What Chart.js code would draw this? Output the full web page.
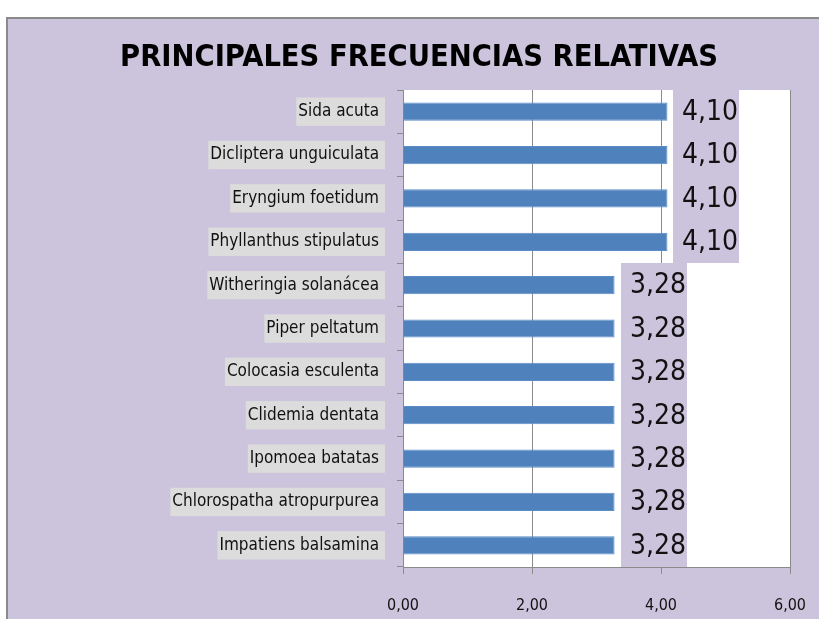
<!DOCTYPE html>
<html>
<head>
<meta charset="utf-8">
<script src="https://cdn.jsdelivr.net/npm/chart.js@4.4.1/dist/chart.umd.min.js"></script>
<style>
  html, body { margin: 0; padding: 0; background: #fff; }
  #wrap {
    position: absolute; left: 6px; top: 17px;
    width: 811px; height: 600px;
    border-top: 2px solid #8a8a8a; border-left: 2px solid #8a8a8a;
    background: #ccc3dc;
  }
  canvas { display: block; }
</style>
</head>
<body>
<div id="wrap"><canvas id="chart" width="811" height="600"></canvas></div>
<script>
// Datos del gráfico
const especies = [
  'Sida acuta', 'Dicliptera unguiculata', 'Eryngium foetidum', 'Phyllanthus stipulatus',
  'Witheringia solanácea', 'Piper peltatum', 'Colocasia esculenta', 'Clidemia dentata',
  'Ipomoea batatas', 'Chlorospatha atropurpurea', 'Impatiens balsamina'
];
const frecuencias = [4.10, 4.10, 4.10, 4.10, 3.28, 3.28, 3.28, 3.28, 3.28, 3.28, 3.28];
const ejeX = [0, 2, 4, 6];

const FONT = '"DejaVu Sans Condensed", sans-serif';
const fmt = v => v.toFixed(2).replace('.', ',');

// fondo blanco del área de trazado
const fondoArea = {
  id: 'fondoArea',
  beforeDraw(chart) {
    const a = chart.chartArea, ctx = chart.ctx;
    ctx.save();
    ctx.fillStyle = '#ffffff';
    ctx.fillRect(a.left, a.top, a.right - a.left, a.bottom - a.top);
    ctx.restore();
  }
};

// etiquetas de datos con caja lila
const etiquetas = {
  id: 'etiquetas',
  afterDatasetsDraw(chart) {
    const ctx = chart.ctx, y = chart.scales.y;
    const meta = chart.getDatasetMeta(0);
    const alto = (y.bottom - y.top) / especies.length;
    ctx.save();
    meta.data.forEach((bar, i) => {
      const x0 = Math.round(bar.x + 6);
      const top = Math.round(bar.y - alto / 2);
      const bot = Math.round(bar.y + alto / 2);
      ctx.fillStyle = '#ccc3dc';
      ctx.fillRect(x0, top, 66, bot - top);
      ctx.fillStyle = '#111';
      ctx.font = '28px ' + FONT;
      ctx.textBaseline = 'middle';
      ctx.fillText(fmt(frecuencias[i]), x0 + 9, bar.y + 1);
    });
    ctx.restore();
  }
};

new Chart(document.getElementById('chart').getContext('2d'), {
  type: 'bar',
  data: {
    labels: especies,
    datasets: [{
      data: frecuencias,
      backgroundColor: '#4f81bd',
      borderColor: '#5b8cc6',
      borderWidth: 1,
      barPercentage: 0.42,
      categoryPercentage: 1
    }]
  },
  options: {
    indexAxis: 'y',
    responsive: false,
    animation: false,
    layout: { padding: { left: 40, right: 29, top: 0, bottom: 0 } },
    plugins: {
      legend: { display: false },
      tooltip: { enabled: false },
      title: {
        display: true,
        text: 'PRINCIPALES FRECUENCIAS RELATIVAS',
        color: '#000',
        font: { family: FONT, size: 30.5, weight: 'bold', lineHeight: 1.2 },
        padding: { top: 20.7, bottom: 13.7 }
      }
    },
    scales: {
      x: {
        min: 0, max: 6,
        afterBuildTicks: s => { s.ticks = ejeX.map(v => ({ value: v })); },
        afterFit: s => { s.height = 52; s.paddingLeft = 0; s.paddingRight = 0; },
        border: { color: '#8a8a8a' },
        grid: { color: '#8a8a8a', tickLength: 7, drawTicks: true },
        ticks: {
          color: '#111',
          padding: 22,
          font: { family: FONT, size: 16 },
          callback: v => fmt(v)
        }
      },
      y: {
        afterFit: s => { s.width = 355; s.paddingTop = 0; s.paddingBottom = 0; },
        border: { color: '#8a8a8a' },
        grid: { drawOnChartArea: false, color: '#8a8a8a', tickLength: 6, offset: true },
        ticks: {
          color: '#111',
          padding: 18,
          font: { family: FONT, size: 17 },
          showLabelBackdrop: true,
          backdropColor: '#dcdcdc',
          backdropPadding: { left: 2, right: 6, top: 4, bottom: 4 }
        }
      }
    }
  },
  plugins: [fondoArea, etiquetas]
});
</script>
</body>
</html>
